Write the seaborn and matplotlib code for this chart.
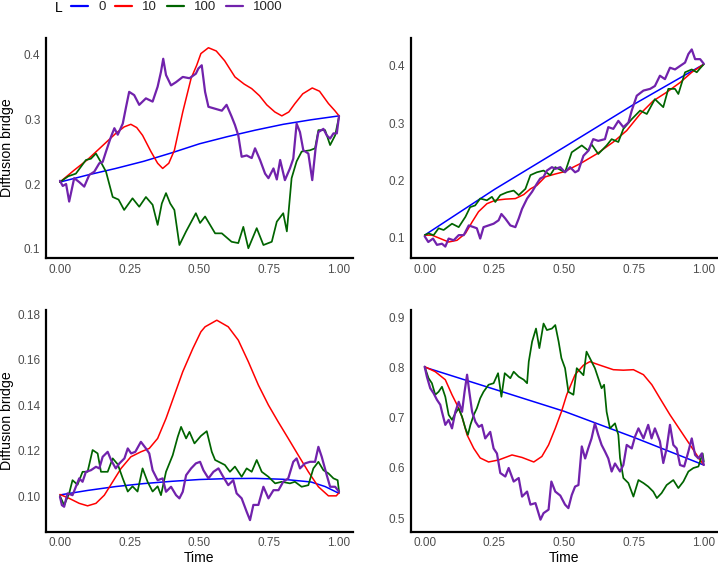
import matplotlib
matplotlib.use("Agg")
import matplotlib.pyplot as plt
import seaborn as sns
import pandas as pd
from matplotlib.lines import Line2D

# legend levels and colours
L_levels = ["0", "10", "100", "1000"]
L_colors = ["#0000FF", "#FF0000", "#006400", "#7122AC"]

x_ticks = [0.0, 0.25, 0.5, 0.75, 1.0]
x_ticklabels = ["0.00", "0.25", "0.50", "0.75", "1.00"]

# ---- panel 1 (top left): (time, value)
p1_L0 = [(0.0, 0.203), (0.1, 0.214), (0.2, 0.224), (0.3, 0.235), (0.4, 0.248), (0.5, 0.262),
         (0.6, 0.273), (0.7, 0.283), (0.8, 0.292), (0.9, 0.299), (1.0, 0.305)]
p1_L10 = [(0.0, 0.203), (0.05, 0.221), (0.10, 0.238), (0.15, 0.258), (0.20, 0.278), (0.23, 0.288),
          (0.254, 0.292), (0.275, 0.287), (0.296, 0.275), (0.326, 0.250), (0.35, 0.232), (0.368, 0.224),
          (0.39, 0.232), (0.41, 0.252), (0.44, 0.311), (0.47, 0.363), (0.49, 0.383), (0.505, 0.401),
          (0.532, 0.410), (0.56, 0.405), (0.59, 0.390), (0.627, 0.365), (0.66, 0.354), (0.687, 0.347),
          (0.715, 0.336), (0.741, 0.322), (0.77, 0.311), (0.795, 0.305), (0.82, 0.311), (0.842, 0.324),
          (0.87, 0.339), (0.904, 0.348), (0.93, 0.343), (0.962, 0.324), (0.985, 0.313), (1.0, 0.305)]
p1_L100 = [(0.0, 0.203), (0.03, 0.212), (0.057, 0.216), (0.093, 0.237), (0.111, 0.239), (0.129, 0.247),
           (0.145, 0.235), (0.165, 0.219), (0.189, 0.180), (0.21, 0.176), (0.23, 0.160), (0.26, 0.178),
           (0.284, 0.165), (0.308, 0.180), (0.332, 0.168), (0.35, 0.137), (0.365, 0.170), (0.38, 0.186),
           (0.395, 0.170), (0.41, 0.160), (0.428, 0.106), (0.452, 0.127), (0.487, 0.155), (0.502, 0.140),
           (0.52, 0.150), (0.556, 0.124), (0.58, 0.124), (0.615, 0.111), (0.639, 0.109), (0.657, 0.134),
           (0.675, 0.101), (0.705, 0.132), (0.729, 0.106), (0.759, 0.111), (0.777, 0.142), (0.8, 0.155),
           (0.813, 0.127), (0.83, 0.209), (0.848, 0.235), (0.866, 0.250), (0.896, 0.252), (0.914, 0.255),
           (0.926, 0.283), (0.95, 0.283), (0.968, 0.260), (0.986, 0.275), (1.0, 0.304)]
p1_L1000 = [(0.0, 0.205), (0.01, 0.197), (0.022, 0.200), (0.033, 0.173), (0.051, 0.209), (0.069, 0.203),
            (0.087, 0.196), (0.105, 0.214), (0.123, 0.219), (0.141, 0.232), (0.153, 0.234), (0.165, 0.250),
            (0.183, 0.273), (0.195, 0.286), (0.207, 0.276), (0.225, 0.293), (0.237, 0.319), (0.248, 0.342),
            (0.266, 0.337), (0.284, 0.322), (0.308, 0.332), (0.332, 0.327), (0.35, 0.350), (0.362, 0.373),
            (0.37, 0.393), (0.38, 0.368), (0.398, 0.352), (0.416, 0.357), (0.44, 0.365), (0.464, 0.363),
            (0.487, 0.370), (0.496, 0.378), (0.508, 0.383), (0.52, 0.342), (0.532, 0.319), (0.556, 0.316),
            (0.58, 0.313), (0.597, 0.322), (0.615, 0.304), (0.627, 0.291), (0.639, 0.275), (0.651, 0.242),
            (0.669, 0.244), (0.687, 0.240), (0.699, 0.255), (0.717, 0.237), (0.735, 0.216), (0.747, 0.209),
            (0.765, 0.224), (0.777, 0.207), (0.789, 0.237), (0.806, 0.206), (0.824, 0.224), (0.836, 0.239),
            (0.848, 0.293), (0.86, 0.280), (0.872, 0.252), (0.89, 0.247), (0.904, 0.206), (0.916, 0.255),
            (0.926, 0.280), (0.944, 0.285), (0.956, 0.275), (0.968, 0.270), (0.98, 0.278), (0.992, 0.278),
            (1.0, 0.305)]

# ---- panel 2 (top right)
p2_L0 = [(0.0, 0.104), (0.25, 0.184), (0.5, 0.258), (0.75, 0.333), (1.0, 0.403)]
p2_L10 = [(0.0, 0.104), (0.026, 0.104), (0.056, 0.098), (0.086, 0.092), (0.116, 0.095), (0.146, 0.107),
          (0.17, 0.127), (0.193, 0.145), (0.223, 0.159), (0.253, 0.165), (0.289, 0.167), (0.325, 0.168),
          (0.355, 0.175), (0.379, 0.185), (0.402, 0.191), (0.432, 0.206), (0.468, 0.211), (0.5, 0.215),
          (0.557, 0.229), (0.616, 0.246), (0.676, 0.267), (0.724, 0.287), (0.772, 0.316), (0.819, 0.339),
          (0.867, 0.354), (0.915, 0.371), (0.957, 0.389), (1.0, 0.403)]
p2_L100 = [(0.0, 0.104), (0.014, 0.107), (0.032, 0.104), (0.05, 0.116), (0.068, 0.113), (0.098, 0.124),
           (0.122, 0.118), (0.146, 0.136), (0.163, 0.153), (0.181, 0.156), (0.199, 0.168), (0.223, 0.165),
           (0.241, 0.171), (0.253, 0.162), (0.271, 0.174), (0.295, 0.179), (0.319, 0.182), (0.337, 0.174),
           (0.361, 0.185), (0.379, 0.209), (0.402, 0.214), (0.426, 0.217), (0.45, 0.209), (0.468, 0.223),
           (0.503, 0.214), (0.527, 0.249), (0.563, 0.261), (0.586, 0.252), (0.598, 0.263), (0.622, 0.246),
           (0.652, 0.261), (0.67, 0.272), (0.694, 0.267), (0.712, 0.290), (0.742, 0.307), (0.772, 0.322),
           (0.796, 0.316), (0.825, 0.342), (0.855, 0.328), (0.873, 0.360), (0.897, 0.360), (0.909, 0.351),
           (0.933, 0.389), (0.957, 0.394), (0.975, 0.389), (0.987, 0.396), (1.0, 0.403)]
p2_L1000 = [(0.0, 0.102), (0.013, 0.092), (0.03, 0.098), (0.044, 0.087), (0.062, 0.089), (0.074, 0.084),
            (0.086, 0.098), (0.104, 0.095), (0.122, 0.104), (0.14, 0.104), (0.158, 0.121), (0.176, 0.118),
            (0.187, 0.116), (0.199, 0.098), (0.211, 0.118), (0.229, 0.121), (0.247, 0.124), (0.265, 0.130),
            (0.275, 0.141), (0.289, 0.133), (0.307, 0.121), (0.325, 0.118), (0.337, 0.133), (0.349, 0.150),
            (0.367, 0.168), (0.385, 0.180), (0.402, 0.194), (0.414, 0.203), (0.426, 0.206), (0.438, 0.217),
            (0.456, 0.223), (0.468, 0.220), (0.486, 0.223), (0.503, 0.214), (0.521, 0.223), (0.539, 0.214),
            (0.551, 0.217), (0.569, 0.243), (0.587, 0.252), (0.604, 0.272), (0.622, 0.269), (0.646, 0.272),
            (0.658, 0.293), (0.676, 0.290), (0.694, 0.304), (0.712, 0.293), (0.73, 0.301), (0.742, 0.322),
            (0.76, 0.348), (0.784, 0.357), (0.808, 0.360), (0.825, 0.365), (0.843, 0.383), (0.861, 0.377),
            (0.879, 0.397), (0.897, 0.394), (0.915, 0.400), (0.933, 0.406), (0.945, 0.421), (0.957, 0.429),
            (0.969, 0.412), (0.987, 0.412), (1.0, 0.404)]

# ---- panel 3 (bottom left)
p3_L0 = [(0.0, 0.1005), (0.1, 0.1025), (0.2, 0.1042), (0.3, 0.1055), (0.4, 0.1065), (0.5, 0.1073),
         (0.6, 0.1077), (0.7, 0.1078), (0.8, 0.1074), (0.9, 0.1062), (0.95, 0.1042), (1.0, 0.1012)]
p3_L10 = [(0.0, 0.1007), (0.033, 0.0990), (0.069, 0.0968), (0.099, 0.0957), (0.129, 0.0968),
          (0.159, 0.1004), (0.189, 0.1063), (0.219, 0.1122), (0.254, 0.1173), (0.29, 0.1195),
          (0.32, 0.1210), (0.35, 0.1254), (0.38, 0.1342), (0.41, 0.1445), (0.44, 0.1548),
          (0.476, 0.1650), (0.505, 0.1724), (0.52, 0.1746), (0.562, 0.1775), (0.603, 0.1746),
          (0.639, 0.1687), (0.675, 0.1592), (0.711, 0.1489), (0.747, 0.1401), (0.782, 0.1327),
          (0.818, 0.1254), (0.854, 0.1180), (0.89, 0.1107), (0.926, 0.1041), (0.962, 0.1001),
          (0.99, 0.1001), (1.0, 0.1015)]
p3_L100 = [(0.0, 0.1000), (0.015, 0.0960), (0.033, 0.1012), (0.045, 0.1070), (0.063, 0.1050),
           (0.081, 0.1107), (0.099, 0.1107), (0.117, 0.1203), (0.135, 0.1188), (0.147, 0.1107),
           (0.171, 0.1107), (0.189, 0.1166), (0.207, 0.1140), (0.225, 0.1078), (0.243, 0.1020),
           (0.26, 0.1043), (0.278, 0.1020), (0.296, 0.1122), (0.314, 0.1063), (0.332, 0.1020),
           (0.35, 0.1043), (0.362, 0.1004), (0.38, 0.1107), (0.404, 0.1180), (0.422, 0.1261),
           (0.434, 0.1305), (0.452, 0.1254), (0.464, 0.1283), (0.482, 0.1232), (0.505, 0.1265),
           (0.526, 0.1286), (0.544, 0.1195), (0.556, 0.1159), (0.591, 0.1137), (0.609, 0.1107),
           (0.627, 0.1130), (0.651, 0.1085), (0.669, 0.1122), (0.687, 0.1107), (0.705, 0.1159),
           (0.723, 0.1107), (0.747, 0.1085), (0.771, 0.1056), (0.795, 0.1063), (0.824, 0.1056),
           (0.842, 0.1063), (0.866, 0.1041), (0.89, 0.1048), (0.908, 0.1122), (0.926, 0.1151),
           (0.944, 0.1114), (0.962, 0.1100), (0.98, 0.1078), (0.995, 0.1070), (1.0, 0.1019)]
p3_L1000 = [(0.0, 0.0997), (0.007, 0.0960), (0.015, 0.0953), (0.027, 0.1012), (0.045, 0.1004),
            (0.057, 0.1041), (0.069, 0.1078), (0.081, 0.1063), (0.093, 0.1107), (0.111, 0.1114),
            (0.129, 0.1129), (0.141, 0.1122), (0.153, 0.1173), (0.171, 0.1195), (0.183, 0.1159),
            (0.2, 0.1122), (0.213, 0.1144), (0.231, 0.1166), (0.243, 0.1210), (0.255, 0.1188),
            (0.27, 0.1195), (0.29, 0.1239), (0.308, 0.1210), (0.32, 0.1188), (0.332, 0.1114),
            (0.35, 0.1070), (0.368, 0.1078), (0.38, 0.1019), (0.398, 0.1041), (0.416, 0.1004),
            (0.428, 0.0990), (0.44, 0.1019), (0.452, 0.1092), (0.47, 0.1122), (0.487, 0.1144),
            (0.502, 0.1151), (0.514, 0.1114), (0.532, 0.1078), (0.55, 0.1107), (0.568, 0.1122),
            (0.585, 0.1085), (0.603, 0.1048), (0.621, 0.1070), (0.633, 0.1012), (0.651, 0.0990),
            (0.669, 0.0931), (0.681, 0.0894), (0.693, 0.0961), (0.711, 0.0961), (0.729, 0.1041),
            (0.747, 0.0990), (0.765, 0.1026), (0.783, 0.1026), (0.8, 0.1063), (0.818, 0.1078),
            (0.836, 0.1151), (0.848, 0.1166), (0.86, 0.1122), (0.878, 0.1144), (0.896, 0.1151),
            (0.914, 0.1151), (0.926, 0.1217), (0.938, 0.1173), (0.956, 0.1092), (0.968, 0.1041),
            (0.986, 0.1041), (1.0, 0.1019)]

# ---- panel 4 (bottom right)
p4_L0 = [(0.0, 0.801), (0.25, 0.757), (0.5, 0.713), (0.75, 0.661), (1.0, 0.606)]
p4_L10 = [(0.0, 0.802), (0.038, 0.792), (0.074, 0.776), (0.098, 0.746), (0.116, 0.726), (0.134, 0.702),
          (0.152, 0.666), (0.176, 0.639), (0.199, 0.620), (0.229, 0.612), (0.265, 0.616), (0.313, 0.626),
          (0.349, 0.621), (0.391, 0.612), (0.42, 0.623), (0.444, 0.646), (0.468, 0.679), (0.49, 0.712),
          (0.509, 0.746), (0.539, 0.786), (0.569, 0.805), (0.592, 0.812), (0.628, 0.805), (0.676, 0.796),
          (0.712, 0.795), (0.748, 0.796), (0.784, 0.786), (0.814, 0.766), (0.843, 0.739), (0.879, 0.706),
          (0.915, 0.676), (0.951, 0.646), (0.975, 0.626), (1.0, 0.606)]
p4_L100 = [(0.0, 0.802), (0.014, 0.779), (0.026, 0.769), (0.038, 0.746), (0.05, 0.752), (0.062, 0.762),
           (0.074, 0.742), (0.086, 0.706), (0.098, 0.696), (0.11, 0.709), (0.122, 0.719), (0.134, 0.702),
           (0.146, 0.679), (0.155, 0.666), (0.164, 0.686), (0.176, 0.706), (0.187, 0.719), (0.199, 0.739),
           (0.211, 0.752), (0.229, 0.766), (0.247, 0.769), (0.263, 0.789), (0.275, 0.742), (0.287, 0.789),
           (0.307, 0.779), (0.319, 0.792), (0.337, 0.782), (0.355, 0.776), (0.367, 0.769), (0.373, 0.812),
           (0.385, 0.852), (0.399, 0.878), (0.411, 0.839), (0.426, 0.888), (0.438, 0.875), (0.456, 0.878),
           (0.468, 0.885), (0.48, 0.852), (0.49, 0.819), (0.503, 0.799), (0.515, 0.752), (0.533, 0.746),
           (0.545, 0.799), (0.557, 0.792), (0.569, 0.785), (0.58, 0.832), (0.592, 0.819), (0.61, 0.799),
           (0.622, 0.779), (0.634, 0.759), (0.643, 0.766), (0.652, 0.712), (0.664, 0.679), (0.682, 0.689),
           (0.694, 0.666), (0.7, 0.620), (0.712, 0.580), (0.73, 0.570), (0.748, 0.543), (0.766, 0.576),
           (0.784, 0.570), (0.801, 0.563), (0.819, 0.553), (0.832, 0.540), (0.849, 0.550), (0.867, 0.566),
           (0.891, 0.576), (0.909, 0.560), (0.927, 0.573), (0.945, 0.593), (0.963, 0.600), (0.981, 0.603),
           (0.996, 0.629), (1.0, 0.613)]
p4_L1000 = [(0.0, 0.802), (0.008, 0.782), (0.02, 0.759), (0.032, 0.749), (0.044, 0.736), (0.056, 0.726),
            (0.062, 0.712), (0.074, 0.686), (0.086, 0.696), (0.098, 0.679), (0.11, 0.712), (0.122, 0.732),
            (0.134, 0.712), (0.143, 0.752), (0.152, 0.786), (0.16, 0.752), (0.17, 0.712), (0.182, 0.692),
            (0.194, 0.682), (0.205, 0.686), (0.217, 0.659), (0.235, 0.672), (0.247, 0.639), (0.259, 0.629),
            (0.271, 0.590), (0.289, 0.583), (0.301, 0.600), (0.319, 0.573), (0.337, 0.580), (0.349, 0.543),
            (0.367, 0.553), (0.379, 0.527), (0.397, 0.530), (0.415, 0.497), (0.426, 0.510), (0.444, 0.517),
            (0.454, 0.573), (0.468, 0.553), (0.486, 0.545), (0.503, 0.527), (0.515, 0.520), (0.527, 0.546),
            (0.539, 0.563), (0.551, 0.566), (0.563, 0.643), (0.575, 0.619), (0.586, 0.639), (0.598, 0.659),
            (0.61, 0.689), (0.622, 0.666), (0.634, 0.646), (0.646, 0.633), (0.658, 0.619), (0.67, 0.593),
            (0.682, 0.609), (0.7, 0.593), (0.712, 0.606), (0.724, 0.646), (0.742, 0.639), (0.754, 0.663),
            (0.766, 0.679), (0.784, 0.659), (0.801, 0.686), (0.813, 0.659), (0.825, 0.679), (0.843, 0.653),
            (0.855, 0.610), (0.867, 0.639), (0.879, 0.686), (0.891, 0.646), (0.903, 0.639), (0.915, 0.606),
            (0.93, 0.603), (0.945, 0.633), (0.957, 0.659), (0.969, 0.626), (0.981, 0.619), (0.993, 0.629),
            (1.0, 0.606)]

p1_yticks = [0.1, 0.2, 0.3, 0.4]
p2_yticks = [0.1, 0.2, 0.3, 0.4]
p3_yticks = [0.10, 0.12, 0.14, 0.16, 0.18]
p4_yticks = [0.5, 0.6, 0.7, 0.8, 0.9]

panels = [
    dict(series=[p1_L0, p1_L10, p1_L100, p1_L1000], yticks=p1_yticks, fmt="{:.1f}", ylim=(0.086, 0.425)),
    dict(series=[p2_L0, p2_L10, p2_L100, p2_L1000], yticks=p2_yticks, fmt="{:.1f}", ylim=(0.064, 0.449)),
    dict(series=[p3_L0, p3_L10, p3_L100, p3_L1000], yticks=p3_yticks, fmt="{:.2f}", ylim=(0.0843, 0.182)),
    dict(series=[p4_L0, p4_L10, p4_L100, p4_L1000], yticks=p4_yticks, fmt="{:.1f}", ylim=(0.473, 0.915)),
]

rows = []
for i, p in enumerate(panels):
    for lev, ser in zip(L_levels, p["series"]):
        for t, v in ser:
            rows.append((i, lev, t, v))
df = pd.DataFrame(rows, columns=["panel", "L", "Time", "value"])

sns.set_theme(style="white")
plt.rcParams["font.family"] = ["Liberation Sans", "DejaVu Sans"]

W, H = 718, 567
fig = plt.figure(figsize=(W / 100, H / 100), dpi=100)

# axes boxes in pixels: left, top, right, bottom
boxes = [(46, 38, 353, 258), (410.7, 38, 717.7, 258),
         (46, 310, 353, 531.7), (410.7, 310, 717.7, 531.7)]

palette = dict(zip(L_levels, L_colors))
widths = [1.1, 1.1, 1.25, 1.6]

for i, (p, (l, t, r, b)) in enumerate(zip(panels, boxes)):
    ax = fig.add_axes([l / W, 1 - b / H, (r - l) / W, (b - t) / H])
    sns.lineplot(data=df[df["panel"] == i], x="Time", y="value", hue="L",
                 hue_order=L_levels, palette=palette, estimator=None, sort=False,
                 linewidth=1.2, legend=False, ax=ax)
    for line, w in zip(ax.lines, widths):
        line.set_linewidth(w)
    ax.set_xlim(-0.05, 1.05)
    ax.set_ylim(*p["ylim"])
    ax.set_xticks(x_ticks)
    ax.set_xticklabels(x_ticklabels)
    ax.set_yticks(p["yticks"])
    ax.set_yticklabels([p["fmt"].format(v) for v in p["yticks"]])
    for s in ["top", "right"]:
        ax.spines[s].set_visible(False)
    for s in ["left", "bottom"]:
        ax.spines[s].set_color("black")
        ax.spines[s].set_linewidth(1.6)
    ax.tick_params(length=0, labelsize=8.5, labelcolor="#4D4D4D", pad=4)
    if i >= 2:
        ax.set_xlabel("Time", fontsize=10, color="black", labelpad=1)
    else:
        ax.set_xlabel("")
    if i % 2 == 0:
        ax.set_ylabel("Diffusion bridge", fontsize=10.2, color="black")
        ax.yaxis.set_label_coords((14 - l) / (r - l), 0.5)
    else:
        ax.set_ylabel("")

handles = [Line2D([0], [0], color=c, lw=1.6) for c in L_colors]
fig.legend(handles, L_levels, ncol=4, loc="center left", bbox_to_anchor=(71 / W, 1 - 7.5 / H),
           frameon=False, fontsize=9.5, handlelength=1.3, handletextpad=0.75,
           columnspacing=0.75, borderpad=0, borderaxespad=0, handleheight=0.5)
fig.text(55 / W, 1 - 7.5 / H, "L", fontsize=10, va="center", ha="left", color="black")

fig.savefig("out.png", dpi=100)
